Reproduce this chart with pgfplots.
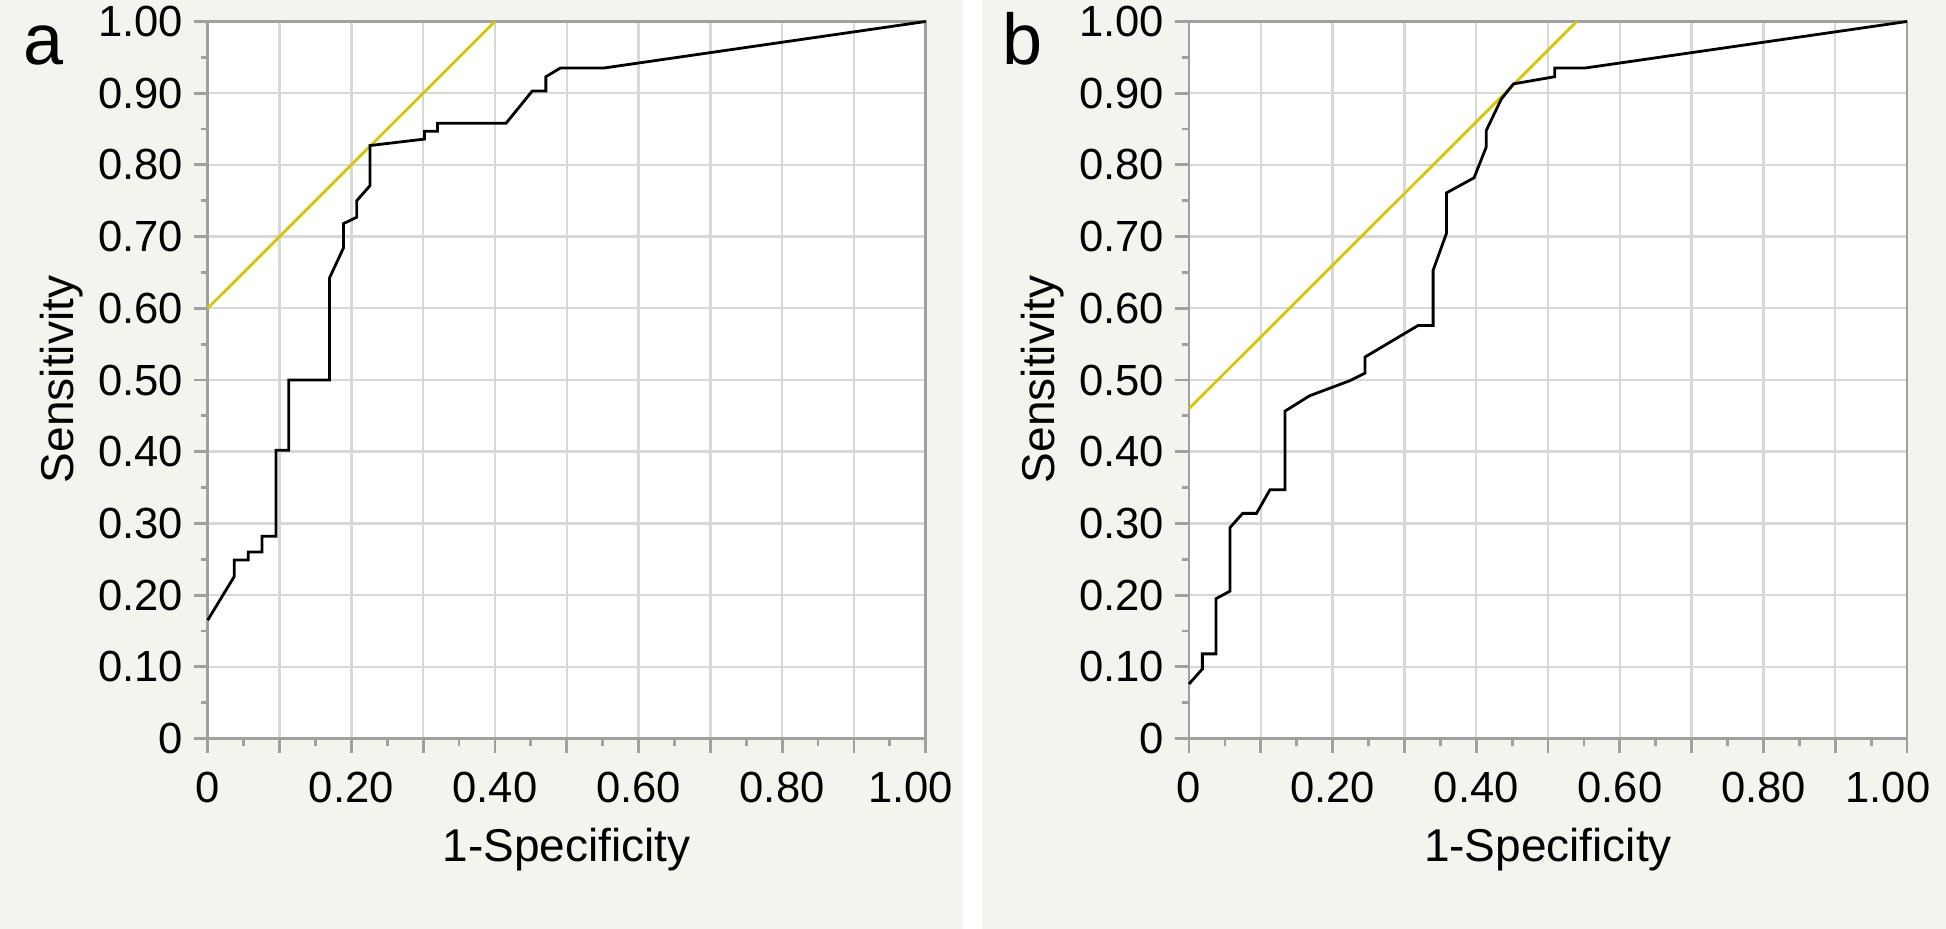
\documentclass[border=0pt]{standalone}
\usepackage{pgfplots}
\pgfplotsset{compat=1.18}
\usepackage{fontspec}
\setmainfont{Liberation Sans}

\definecolor{panelbg}{RGB}{244,244,239}
\definecolor{axgray}{RGB}{160,160,160}
\definecolor{gridgray}{RGB}{216,216,216}
\definecolor{cutline}{RGB}{214,200,0}

\pgfplotsset{
  roc/.style={
    scale only axis, width=359pt, height=358.5pt, anchor=south west,
    xmin=0, xmax=1, ymin=0, ymax=1,
    clip=false,
    axis background/.style={fill=white},
    axis line style={axgray, line width=1.4pt},
    grid=major,
    major grid style={gridgray, line width=1.2pt},
    xtick={0,0.1,0.2,0.3,0.4,0.5,0.6,0.7,0.8,0.9,1},
    ytick={0,0.1,0.2,0.3,0.4,0.5,0.6,0.7,0.8,0.9,1},
    yticklabels={0,0.10,0.20,0.30,0.40,0.50,0.60,0.70,0.80,0.90,1.00},
    minor x tick num=1, minor y tick num=1,
    tick align=outside, xtick pos=left, ytick pos=left,
    major tick length=7pt, minor tick length=3.5pt,
    tick style={axgray, line width=1.4pt},
    tick label style={font=\fontsize{21.8}{26}\selectfont, inner sep=0pt},
    xticklabel style={anchor=north, yshift=-9.6pt},
    yticklabel style={anchor=east, xshift=-5.2pt},
  },
  roccurve/.style={black, line width=1.4pt, line join=miter},
  cutoff/.style={cutline, line width=1.4pt},
}

\begin{document}
\begin{tikzpicture}
\path[use as bounding box] (0,0) rectangle (973pt,-464.5pt);
\fill[white] (0,0) rectangle (973pt,-464.5pt);
\fill[panelbg] (0,0) rectangle (481.5pt,-464.5pt);
\fill[panelbg] (491pt,0) rectangle (973pt,-464.5pt);

% panel a
\begin{axis}[roc, at={(103.85pt,-369.25pt)},
    xticklabels={0,,0.20,,0.40,,0.60,,0.80,,1.00\kern15pt}]
\addplot[cutoff] coordinates {(0,0.6) (0.4,1)};
\addplot[roccurve] coordinates {
  (0,0.165) (0.037,0.226) (0.037,0.249) (0.0566,0.249) (0.0566,0.260)
  (0.0757,0.260) (0.0757,0.282) (0.095,0.282) (0.095,0.402) (0.113,0.402)
  (0.113,0.500) (0.1695,0.500) (0.1695,0.642) (0.189,0.684) (0.189,0.718)
  (0.2075,0.727) (0.2075,0.750) (0.226,0.771) (0.226,0.827) (0.302,0.836)
  (0.302,0.847) (0.320,0.847) (0.320,0.858) (0.4155,0.858) (0.452,0.903)
  (0.471,0.903) (0.471,0.923) (0.491,0.935) (0.551,0.935) (1,1)
};
\end{axis}

% panel b
\begin{axis}[roc, at={(594.5pt,-369.25pt)},
    xticklabels={0,,0.20,,0.40,,0.60,,0.80,,1.00\kern19pt}]
\addplot[cutoff] coordinates {(0,0.46) (0.54,1)};
\addplot[roccurve] coordinates {
  (0,0.076) (0.0186,0.097) (0.0186,0.118) (0.0376,0.118) (0.0376,0.195)
  (0.057,0.2055) (0.057,0.294) (0.0747,0.314) (0.094,0.314) (0.1128,0.347)
  (0.1336,0.347) (0.1336,0.4565) (0.168,0.478) (0.224,0.499) (0.245,0.5095)
  (0.245,0.532) (0.319,0.576) (0.340,0.576) (0.340,0.653) (0.3587,0.705)
  (0.3587,0.761) (0.397,0.782) (0.414,0.825) (0.414,0.848) (0.435,0.892)
  (0.452,0.913) (0.5095,0.923) (0.5095,0.935) (0.551,0.935) (1,1)
};
\end{axis}

% panel letters and axis titles
\node[anchor=base west, inner sep=0pt, font=\fontsize{36}{40}\selectfont] at (11.5pt,-32.5pt) {a};
\node[anchor=base west, inner sep=0pt, font=\fontsize{36}{40}\selectfont] at (501pt,-32.5pt) {b};
\node[rotate=90, anchor=base, font=\fontsize{23}{28}\selectfont] at (36.5pt,-189.75pt) {Sensitivity};
\node[rotate=90, anchor=base, font=\fontsize{23}{28}\selectfont] at (527.15pt,-189.75pt) {Sensitivity};
\node[anchor=base, font=\fontsize{23}{28}\selectfont] at (283.35pt,-430.5pt) {1-Specificity};
\node[anchor=base, font=\fontsize{23}{28}\selectfont] at (774pt,-430.5pt) {1-Specificity};
\end{tikzpicture}
\end{document}
